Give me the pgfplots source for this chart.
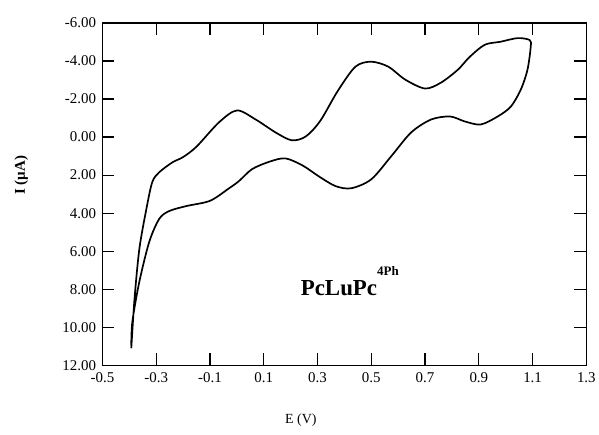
\documentclass[border=0pt]{standalone}
\usepackage{pgfplots}
\pgfplotsset{compat=1.18}
\usepackage{fontspec}
\setmainfont{Liberation Serif}
\begin{document}
\begin{tikzpicture}
\begin{axis}[
  scale only axis, width=486pt, height=344pt,
  xmin=-0.5, xmax=1.3, ymin=-6, ymax=12,
  y dir=reverse,
  axis line style={line width=1.4pt},
  xtick={-0.5,-0.3,-0.1,0.1,0.3,0.5,0.7,0.9,1.1,1.3},
  ytick={-6,-4,-2,0,2,4,6,8,10,12},
  tick align=inside, major tick length=12pt,
  tick style={line width=1.2pt, black},
  /pgf/number format/assume math mode=true,
  xticklabel style={/pgf/number format/fixed, /pgf/number format/fixed zerofill, /pgf/number format/precision=1, yshift=-4pt},
  yticklabel style={/pgf/number format/fixed, /pgf/number format/fixed zerofill, /pgf/number format/precision=2, xshift=-3pt},
  ticklabel style={font=\fontsize{15}{17}\selectfont},
  xlabel={E (V)}, ylabel={I (µA)},
  xlabel style={at={(axis description cs:0.41,0)}, anchor=center, yshift=-55pt, font=\fontsize{14}{16}\selectfont},
  ylabel style={at={(axis description cs:-0.168,0.555)}, anchor=center, font=\fontsize{15}{17}\selectfont\bfseries},
  clip=false,
]
\addplot[black, line width=1.7pt, smooth, tension=0.5] coordinates {
(-0.393,11.1) (-0.381,8.5) (-0.363,5.88) (-0.337,3.79) (-0.315,2.37) (-0.289,1.85)
(-0.24,1.33) (-0.2,1.05) (-0.15,0.5) (-0.067,-0.77) (0.0,-1.40) (0.07,-0.92)
(0.144,-0.24) (0.204,0.17) (0.256,-0.03) (0.31,-0.85) (0.375,-2.42) (0.441,-3.7)
(0.5,-3.96) (0.563,-3.7) (0.626,-3.02) (0.7,-2.55) (0.759,-2.86) (0.822,-3.54)
(0.865,-4.2) (0.922,-4.85) (0.981,-5.01) (1.044,-5.2) (1.089,-5.1)
(1.093,-4.74) (1.081,-3.54) (1.056,-2.49) (1.019,-1.6) (0.97,-1.08) (0.907,-0.66)
(0.848,-0.82) (0.793,-1.08) (0.722,-0.92) (0.648,-0.24) (0.574,1.01) (0.5,2.22)
(0.426,2.69) (0.367,2.58) (0.304,2.06) (0.245,1.5) (0.18,1.12) (0.12,1.3)
(0.056,1.69) (0.007,2.32) (-0.03,2.7) (-0.1,3.35) (-0.189,3.63) (-0.252,3.89)
(-0.289,4.3) (-0.326,5.5) (-0.363,7.6) (-0.389,9.7) (-0.393,10.95)
};
\node[anchor=base west, inner sep=0pt, font=\fontsize{23}{25}\selectfont\bfseries] at (axis cs:0.237,8.34) {PcLuPc\raisebox{20pt}{\fontsize{13}{13}\selectfont 4Ph}};
\end{axis}
\path[use as bounding box] (-103pt,-69pt) rectangle (496pt,367pt);
\end{tikzpicture}
\end{document}
